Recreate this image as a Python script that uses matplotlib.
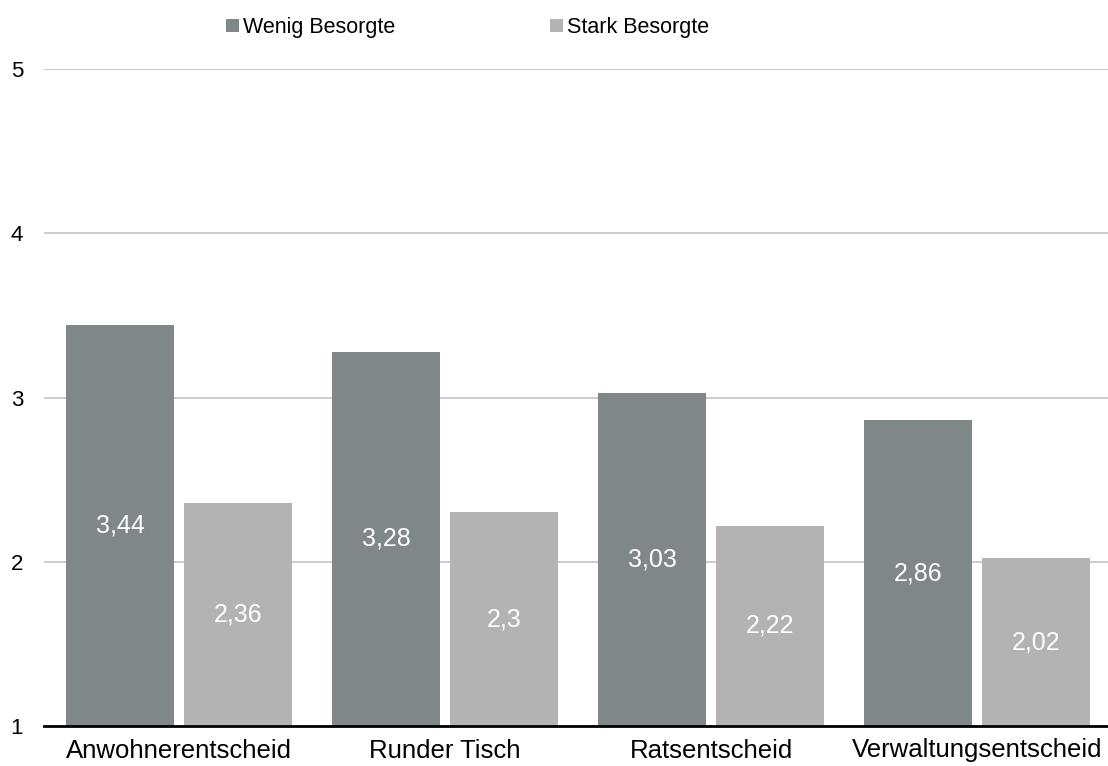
import numpy as np
import matplotlib.pyplot as plt

plt.rcParams['font.family'] = ['Liberation Sans', 'DejaVu Sans']

categories = ['Anwohnerentscheid', 'Runder Tisch', 'Ratsentscheid', 'Verwaltungsentscheid']
wenig = [3.44, 3.28, 3.03, 2.86]
stark = [2.36, 2.30, 2.22, 2.02]
series_names = ['Wenig Besorgte', 'Stark Besorgte']

dark = '#7f8788'
light = '#b3b3b3'

fig = plt.figure(figsize=(11.08, 7.66), dpi=100)
ax = fig.add_axes([44 / 1108, 1 - 726 / 766, 1 - 44 / 1108, (726 - 69) / 766])

x = np.arange(len(categories))
w = 0.405
gap = 0.038
base = 1

b1 = ax.bar(x - (w + gap) / 2, np.array(wenig) - base, w, bottom=base, color=dark,
            label=series_names[0], zorder=2)
b2 = ax.bar(x + (w + gap) / 2, np.array(stark) - base, w, bottom=base, color=light,
            label=series_names[1], zorder=2)

def fmt(v):
    return ('%g' % v).replace('.', ',')

for bars, vals in ((b1, wenig), (b2, stark)):
    for rect, v in zip(bars, vals):
        ax.text(rect.get_x() + rect.get_width() / 2, base + (v - base) / 2, fmt(v),
                ha='center', va='center', color='white', fontsize=18, zorder=3)

ax.set_xlim(-0.508, len(categories) - 0.508)
ax.set_ylim(1, 5)
ax.set_yticks([1, 2, 3, 4, 5])
ax.set_xticks(x)
ax.set_xticklabels(categories, fontsize=18.5)
ax.tick_params(axis='y', labelsize=16, length=0, pad=15)
ax.tick_params(axis='x', length=0, pad=9)
ax.yaxis.grid(True, color='#c4c4c4', linewidth=1.2, zorder=0)
ax.set_axisbelow(True)
for s in ('top', 'right', 'left'):
    ax.spines[s].set_visible(False)
ax.spines['bottom'].set_linewidth(2)
ax.spines['bottom'].set_zorder(4)

fig.legend(handles=[b1, b2], labels=series_names, loc='upper center',
           bbox_to_anchor=(0.422, 1.003), ncol=2, frameon=False, fontsize=15.5,
           handlelength=0.6, handleheight=0.6, handletextpad=0.2, columnspacing=7.2)

fig.savefig('out.png', dpi=100)
